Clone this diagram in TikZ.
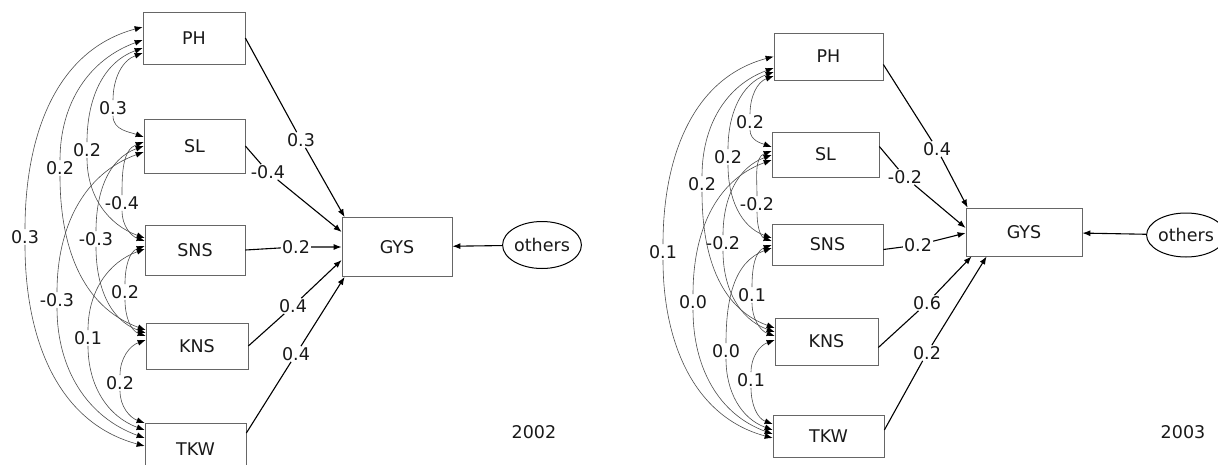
\documentclass[tikz,border=0pt]{standalone}
\usepackage{fontspec}
\setmainfont{DejaVu Sans}
\usetikzlibrary{arrows.meta,shapes.geometric}
\begin{document}
\begin{tikzpicture}[x=1pt, y=1pt, font=\fontsize{17.5}{20}\selectfont,
	varbox/.style={shape=rectangle, draw=black!60, line width=0.7pt, inner sep=0pt, text=black!90},
	oval/.style={shape=ellipse, draw=black, line width=1pt, inner sep=0pt, text=black!90},
	coef/.style={inner sep=1pt, text=black!90},
	cor/.style={draw=black!70, line width=0.6pt},
	up/.style={out=90, in=200, -{Latex[length=8pt,width=6pt,black]}},
	down/.style={out=-90, in=160, -{Latex[length=8pt,width=6pt,black]}},
	effect/.style={draw=black, line width=1.1pt, -{Latex[length=8pt,width=6pt]}}]
		\useasboundingbox (0,0) rectangle (1218,-464);
		\clip (0,0) rectangle (1218,-464);
		% 2002
		\node (ph02) at (194,-38) [varbox, minimum width=102pt, minimum height=52pt] {PH};
		\node (sl02) at (194.5,-146) [varbox, minimum width=101pt, minimum height=54pt] {SL};
		\node (sns02) at (195,-250) [varbox, minimum width=100pt, minimum height=50pt] {SNS};
		\node (kns02) at (197,-346) [varbox, minimum width=102pt, minimum height=46pt] {KNS};
		\node (tkw02) at (195.5,-449) [varbox, minimum width=101pt, minimum height=52pt] {TKW};
		\node (gys02) at (397,-247) [varbox, minimum width=110pt, minimum height=59pt] {GYS};
		\node (oth02) at (542,-245) [oval, minimum width=70pt, minimum height=47pt] {others};
		\node (yr02) at (534,-432) [coef] {2002};
		\node (phgys02) at (301,-140) [coef] {0.3};
		\node (slgys02) at (268,-172) [coef] {-0.4};
		\node (snsgys02) at (296,-247) [coef] {0.2};
		\node (knsgys02) at (293,-306) [coef] {0.4};
		\node (tkwgys02) at (296,-354) [coef] {0.4};
		\draw[effect] (ph02.east) -- (phgys02) (phgys02) -- ([xshift=3pt]gys02.north west);
		\draw[effect] (sl02.east) -- (slgys02) (slgys02) -- ([yshift=15pt]gys02.west);
		\draw[effect] (sns02.east) -- (snsgys02) (snsgys02) -- (gys02.west);
		\draw[effect] (kns02.east) -- (knsgys02) (knsgys02) -- ([yshift=-13pt]gys02.west);
		\draw[effect] ([yshift=16pt]tkw02.east) -- (tkwgys02) (tkwgys02) -- ([xshift=3pt]gys02.south west);
		\draw[effect] (oth02) -- (gys02);
		\node (phsl02) at (113,-108) [coef] {0.3};
		\node (phsns02) at (87,-150) [coef] {0.2};
		\node (phkns02) at (60,-168) [coef] {0.2};
		\node (phtkw02) at (25,-237) [coef] {0.3};
		\node (slsns02) at (122,-203) [coef] {-0.4};
		\node (slkns02) at (96,-239) [coef] {-0.3};
		\node (sltkw02) at (57,-300) [coef] {-0.3};
		\node (snskns02) at (125,-292) [coef] {0.2};
		\node (snstkw02) at (88,-338) [coef] {0.1};
		\node (knstkw02) at (120,-383) [coef] {0.2};
		\draw[cor] (phsl02.north) edge[up] ([yshift=-15pt]ph02.west) (phsl02.south) edge[down] ([yshift=9pt]sl02.west);
		\draw[cor] (phsns02.north) edge[up] ([yshift=-10pt]ph02.west) (phsns02.south) edge[down] ([yshift=12pt]sns02.west);
		\draw[cor] (phkns02.north) edge[up] ([yshift=-2pt]ph02.west) (phkns02.south) edge[down] ([yshift=16pt]kns02.west);
		\draw[cor] (phtkw02.north) edge[up, in=195] ([yshift=11pt]ph02.west) (phtkw02.south) edge[down, in=165] ([yshift=3pt]tkw02.west);
		\draw[cor] (slsns02.north) edge[up] ([yshift=4pt]sl02.west) (slsns02.south) edge[down] ([yshift=9pt]sns02.west);
		\draw[cor] (slkns02.north) edge[up] (sl02.west) (slkns02.south) edge[down] ([yshift=13pt]kns02.west);
		\draw[cor] (sltkw02.north) edge[up] ([yshift=-6pt]sl02.west) (sltkw02.south) edge[down] ([yshift=11pt]tkw02.west);
		\draw[cor] (snskns02.north) edge[up] ([yshift=4pt]sns02.west) (snskns02.south) edge[down] ([yshift=10pt]kns02.west);
		\draw[cor] (snstkw02.north) edge[up] ([yshift=1pt]sns02.west) (snstkw02.south) edge[down] ([yshift=19pt]tkw02.west);
		\draw[cor] (knstkw02.north) edge[up] ([yshift=6pt]kns02.west) (knstkw02.south) edge[down] ([yshift=26pt]tkw02.west);
		% 2003
		\node (ph03) at (828.5,-56.5) [varbox, minimum width=109pt, minimum height=47pt] {PH};
		\node (sl03) at (825.5,-154.5) [varbox, minimum width=107pt, minimum height=45pt] {SL};
		\node (sns03) at (827.5,-244.5) [varbox, minimum width=111pt, minimum height=41pt] {SNS};
		\node (kns03) at (826.5,-341.5) [varbox, minimum width=103pt, minimum height=47pt] {KNS};
		\node (tkw03) at (828.5,-436) [varbox, minimum width=111pt, minimum height=42pt] {TKW};
		\node (gys03) at (1024,-232) [varbox, minimum width=116pt, minimum height=48pt] {GYS};
		\node (oth03) at (1186,-235) [oval, minimum width=66pt, minimum height=44pt] {others};
		\node (yr03) at (1183,-432) [coef] {2003};
		\node (phgys03) at (937,-149) [coef] {0.4};
		\node (slgys03) at (905,-177) [coef] {-0.2};
		\node (snsgys03) at (918,-245) [coef] {0.2};
		\node (knsgys03) at (927,-303) [coef] {0.6};
		\node (tkwgys03) at (927,-353) [coef] {0.2};
		\draw[effect] ([yshift=-8pt]ph03.east) -- (phgys03) (phgys03) -- ([xshift=2pt]gys03.north west);
		\draw[effect] ([yshift=8pt]sl03.east) -- (slgys03) (slgys03) -- ([yshift=4pt]gys03.west);
		\draw[effect] ([yshift=-5pt]sns03.east) -- (snsgys03) (snsgys03) -- ([yshift=-1pt]gys03.west);
		\draw[effect] ([yshift=-6pt]kns03.east) -- (knsgys03) (knsgys03) -- ([xshift=6pt]gys03.south west);
		\draw[effect] ([yshift=6pt]tkw03.east) -- (tkwgys03) (tkwgys03) -- ([xshift=21pt]gys03.south west);
		\draw[effect] (oth03) -- (gys03);
		\node (phsl03) at (750,-122) [coef] {0.2};
		\node (phsns03) at (728,-157) [coef] {0.2};
		\node (phkns03) at (702,-184) [coef] {0.2};
		\node (phtkw03) at (663,-252) [coef] {0.1};
		\node (slsns03) at (757,-204) [coef] {-0.2};
		\node (slkns03) at (723,-243) [coef] {-0.2};
		\node (sltkw03) at (693,-302) [coef] {0.0};
		\node (snskns03) at (752,-295) [coef] {0.1};
		\node (snstkw03) at (726,-351) [coef] {0.0};
		\node (knstkw03) at (751,-380) [coef] {0.1};
		\draw[cor] (phsl03.north) edge[up] ([yshift=-19.5pt]ph03.west) (phsl03.south) edge[down] ([yshift=7.5pt]sl03.west);
		\draw[cor] (phsns03.north) edge[up] ([yshift=-15.5pt]ph03.west) (phsns03.south) edge[down] ([yshift=6.5pt]sns03.west);
		\draw[cor] (phkns03.north) edge[up] ([yshift=-11.5pt]ph03.west) (phkns03.south) edge[down] ([yshift=13.5pt]kns03.west);
		\draw[cor] (phtkw03.north) edge[up, in=195] (ph03.west) (phtkw03.south) edge[down, in=165] ([yshift=-2pt]tkw03.west);
		\draw[cor] (slsns03.north) edge[up] ([yshift=3.5pt]sl03.west) (slsns03.south) edge[down] ([yshift=3.5pt]sns03.west);
		\draw[cor] (slkns03.north) edge[up] ([yshift=-0.5pt]sl03.west) (slkns03.south) edge[down] ([yshift=9.5pt]kns03.west);
		\draw[cor] (sltkw03.north) edge[up] ([yshift=-5.5pt]sl03.west) (sltkw03.south) edge[down] ([yshift=2pt]tkw03.west);
		\draw[cor] (snskns03.north) edge[up] ([yshift=-0.5pt]sns03.west) (snskns03.south) edge[down] ([yshift=5.5pt]kns03.west);
		\draw[cor] (snstkw03.north) edge[up] ([yshift=-3.5pt]sns03.west) (snstkw03.south) edge[down] ([yshift=6pt]tkw03.west);
		\draw[cor] (knstkw03.north) edge[up] ([yshift=1.5pt]kns03.west) (knstkw03.south) edge[down] ([yshift=12pt]tkw03.west);
\end{tikzpicture}
\end{document}
